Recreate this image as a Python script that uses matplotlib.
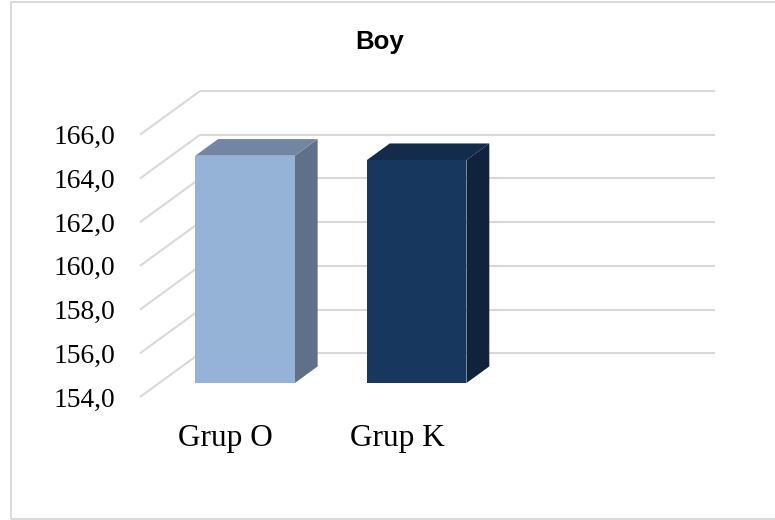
import matplotlib.pyplot as plt
from matplotlib.patches import Rectangle

# data
categories = ["Grup O", "Grup K"]
values = [164.4, 164.2]
tick_values = [154, 156, 158, 160, 162, 164, 166]
tick_labels = ["154,0", "156,0", "158,0", "160,0", "162,0", "164,0", "166,0"]
title = "Boy"

front_colors = ["#95b3d7", "#17375e"]
top_colors = ["#7285a2", "#132c4b"]
side_colors = ["#5f7189", "#10223c"]

# fake 3d: depth shift of the back wall, in data units
DX = 0.35
DY = 2.0
D0, D1 = 0.32, 0.70   # bar depth range
BAR_W = 0.58
VMIN = tick_values[0]
GRID = "#d9d9d9"


def proj(x, v, d):
    return x + d * DX, v + d * DY


def poly(ax, pts, color, z):
    xs = [p[0] for p in pts]
    ys = [p[1] for p in pts]
    ax.fill(xs, ys, color=color, lw=0, zorder=z, clip_on=False)


fig = plt.figure(figsize=(7.75, 5.2), dpi=100)
fig.patches.append(Rectangle((10.5 / 775, 1 - 519 / 520), 1.0, 517.5 / 520,
                             transform=fig.transFigure, fill=False,
                             ec=GRID, lw=1.4))

ax = fig.add_axes([140 / 775, 123 / 520, 575 / 775, 306 / 520])
ax.set_xlim(-0.5, 2.5 + DX)
ax.set_ylim(VMIN, tick_values[-1] + DY)
ax.axis("off")

# back wall and side wall grid
for v, lab in zip(tick_values, tick_labels):
    x0, y0 = proj(-0.5, v, 1)
    x1, y1 = proj(2.5, v, 1)
    ax.plot([x0, x1], [y0, y1], color=GRID, lw=1.5, zorder=1, clip_on=False,
            solid_capstyle="butt")
    xa, ya = proj(-0.5, v, 0)
    ax.plot([xa, x0], [ya, y0], color=GRID, lw=1.5, zorder=1, clip_on=False,
            solid_capstyle="butt")
    ax.text(-0.5 - 0.146, v, lab, ha="right", va="center_baseline",
            fontsize=19.8, family="Liberation Serif")

# bars
for i, (cat, val) in enumerate(zip(categories, values)):
    xl, xr = i - BAR_W / 2, i + BAR_W / 2
    front = [proj(xl, VMIN, D0), proj(xr, VMIN, D0), proj(xr, val, D0), proj(xl, val, D0)]
    top = [proj(xl, val, D0), proj(xr, val, D0), proj(xr, val, D1), proj(xl, val, D1)]
    side = [proj(xr, VMIN, D0), proj(xr, val, D0), proj(xr, val, D1), proj(xr, VMIN, D1)]
    poly(ax, side, side_colors[i], 3)
    poly(ax, top, top_colors[i], 3)
    poly(ax, front, front_colors[i], 4)
    ax.text(i, VMIN - 1.92, cat, ha="center", va="center",
            fontsize=22.5, family="Liberation Serif")

fig.text(380 / 775, 1 - 42 / 520, title, ha="center", va="center",
         fontsize=18.5, fontweight="bold", family="Liberation Sans")

fig.savefig("out.png", dpi=100)
